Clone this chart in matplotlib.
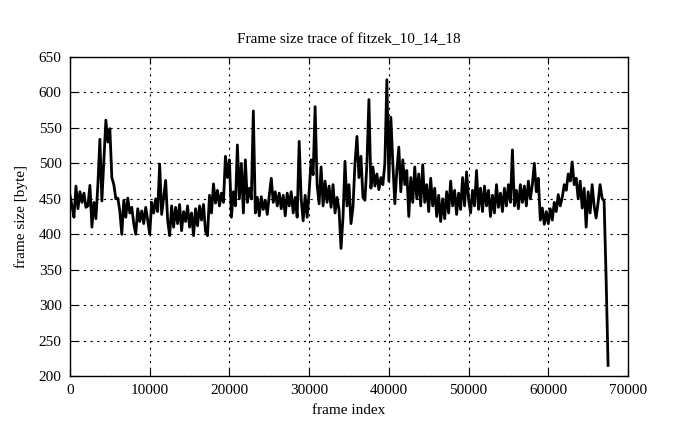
import numpy as np
import matplotlib
matplotlib.use("Agg")
import matplotlib.pyplot as plt

# frame size samples, one every 250 frames
frame_step = 250
frame_size = [
    455, 440, 424, 468, 436, 460, 445, 458, 438, 440,
    469, 410, 445, 422, 470, 534, 447, 504, 561, 530,
    549, 480, 470, 450, 451, 433, 400, 448, 424, 451,
    430, 438, 415, 400, 436, 418, 433, 415, 438, 420,
    400, 445, 430, 450, 432, 499, 428, 452, 476, 420,
    398, 440, 410, 438, 415, 442, 405, 432, 418, 440,
    410, 430, 398, 436, 412, 440, 420, 442, 404, 398,
    455, 430, 471, 444, 462, 440, 458, 445, 510, 480,
    505, 424, 460, 440, 526, 450, 500, 430, 505, 445,
    465, 450, 574, 430, 452, 426, 453, 435, 448, 428,
    455, 479, 445, 460, 440, 458, 436, 455, 426, 458,
    440, 460, 430, 452, 424, 531, 450, 419, 455, 424,
    460, 505, 484, 580, 470, 443, 495, 440, 475, 445,
    468, 438, 470, 430, 452, 435, 380, 424, 503, 440,
    470, 415, 438, 500, 538, 480, 510, 452, 448, 500,
    590, 465, 495, 468, 485, 463, 480, 470, 500, 618,
    475, 565, 500, 443, 490, 523, 460, 505, 470, 490,
    425, 480, 445, 495, 450, 485, 440, 498, 445, 470,
    432, 479, 440, 465, 425, 455, 418, 450, 422, 460,
    430, 475, 440, 462, 428, 458, 435, 480, 440, 488,
    450, 430, 462, 440, 490, 435, 465, 432, 468, 440,
    462, 425, 455, 430, 470, 438, 458, 432, 465, 440,
    470, 445, 519, 440, 462, 436, 470, 445, 468, 440,
    475, 450, 470, 500, 460, 479, 420, 437, 414, 432,
    415, 436, 420, 445, 432, 456, 440, 452, 470, 462,
    485, 475, 502, 470, 479, 450, 475, 437, 465, 410,
    460, 430, 470, 440, 423, 445, 470, 451, 447, 340,
    215,
]
frame_index = np.arange(len(frame_size)) * frame_step

plt.rcParams['font.family'] = ['Liberation Serif', 'DejaVu Serif']

fig = plt.figure(figsize=(6.95, 4.29), dpi=100)
ax = fig.add_axes([0.1007, 0.1235, 0.8029, 0.7435])

ax.plot(frame_index, frame_size, color='black', linewidth=2.0)

ax.set_xlim(0, 70000)
ax.set_ylim(200, 650)
ax.set_xticks(np.arange(0, 70001, 10000))
ax.set_yticks(np.arange(200, 651, 50))
ax.grid(True, color='black', linestyle=(0, (2, 4)), linewidth=0.8)
ax.tick_params(direction='in', length=5, top=True, right=True, labelsize=11, pad=6)
for s in ax.spines.values():
    s.set_linewidth(1.0)

ax.set_title('Frame size trace of fitzek_10_14_18', fontsize=11, pad=10)
ax.set_xlabel('frame index', fontsize=11, labelpad=5)
ax.set_ylabel('frame size [byte]', fontsize=11, labelpad=8)

fig.savefig('out.png', dpi=100)
